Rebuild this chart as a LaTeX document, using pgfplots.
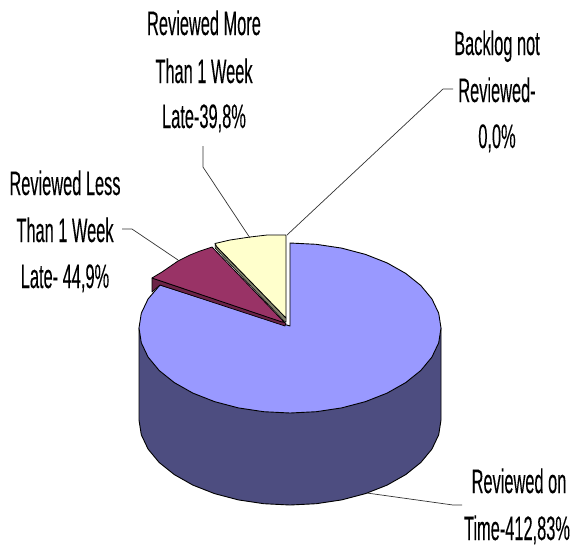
\documentclass[border=0pt]{standalone}
\usepackage{pgfplots}
\pgfplotsset{compat=1.18}
\usepackage{fontspec}
\setmainfont{Liberation Sans}
\definecolor{pieblue}{HTML}{9999FF}
\definecolor{pieside}{HTML}{4D4D80}
\definecolor{piepurple}{HTML}{993366}
\definecolor{piedark}{HTML}{6B2347}
\definecolor{piecream}{HTML}{FFFFCC}
\definecolor{pieolive}{HTML}{80806A}
\definecolor{leader}{HTML}{333333}
\newcommand{\lbl}[3]{\node[anchor=base,inner sep=0pt,text=black] at (axis cs:#1,#2) {\fontsize{29}{29}\selectfont\addfontfeature{FakeBold=0.25}\scalebox{0.565}[1.17]{#3}};}
\begin{document}
\begin{tikzpicture}
\begin{axis}[
  name=pie,
  scale only axis, width=577pt, height=547pt,
  xmin=0, xmax=577, ymin=0, ymax=547, y dir=reverse,
  hide axis, clip=false, no markers,
  every axis plot/.append style={line join=round},
]
% side wall
\addplot[fill=pieside, draw=black, line width=0.9pt] coordinates {
(139,328)(139,420)(141.3,434.8)(148.1,449.1)(159.2,462.5)(174.3,474.6)(192.9,485.1)(214.5,493.6)(238.4,499.9)(263.8,503.7)(290,505)
(316.2,503.7)(341.6,499.9)(365.5,493.6)(387.1,485.1)(405.7,474.6)(420.8,462.5)(431.9,449.1)(438.7,434.8)(441,420)(441,328)
} --cycle;
% top of the large slice
\addplot[fill=pieblue, draw=black, line width=0.9pt] coordinates {
(290,326)(290,243)(316.2,244.3)(341.6,248.1)(365.5,254.4)(387.1,262.9)(405.7,273.4)(420.8,285.5)(431.9,298.9)(438.7,313.2)(441,328)
(438.7,342.8)(431.9,357.1)(420.8,370.5)(405.7,382.6)(387.1,393.1)(365.5,401.6)(341.6,407.9)(316.2,411.7)(290,413)
(263.8,411.7)(238.4,407.9)(214.5,401.6)(192.9,393.1)(174.3,382.6)(159.2,370.5)(148.1,357.1)(141.3,342.8)(139,328)(141.3,313.2)(148.1,298.9)(160,285)
} --cycle;
% purple slice: wall, then top
\addplot[fill=piedark, draw=black, line width=0.7pt] coordinates {
(152,278)(152,292)(160,285)(285,326)(286,323)
} --cycle;
\addplot[fill=piepurple, draw=black, line width=0.8pt] coordinates {
(152,278)(162,272)(178,261)(190,255)(200,251)(212,247)(284,322)(282,322)
} --cycle;
% cream slice: wall, then top
\addplot[fill=pieolive, draw=black, line width=0.5pt] coordinates {
(215,243.5)(215,248)(284,321)(286,322)(286,318)(217,247)
} --cycle;
\addplot[fill=piecream, draw=black, line width=0.8pt] coordinates {
(286,318)(217,247)(215,243.5)(230,240)(250,237)(267,235)(286,235)
} --cycle;
% leader lines
\addplot[leader, line width=0.7pt] coordinates {(122,229)(132,229)(178,260)};
\addplot[leader, line width=0.7pt] coordinates {(203,146)(203,167)(250,238)};
\addplot[leader, line width=0.7pt] coordinates {(453,89)(443,89)(287,235)};
\addplot[leader, line width=0.7pt] coordinates {(367,493)(453,505)(462,505)};
% labels
\lbl{204}{35}{Reviewed More}
\lbl{204}{83}{Than 1 Week}
\lbl{204}{128}{Late-39,8\%}
\lbl{65}{195}{Reviewed Less}
\lbl{65}{242}{Than 1 Week}
\lbl{65}{288}{Late- 44,9\%}
\lbl{497}{55}{Backlog not}
\lbl{497}{102}{Reviewed-}
\lbl{497}{148}{0,0\%}
\lbl{519}{493}{Reviewed on}
\lbl{517}{540}{Time-412,83\%}
\end{axis}
\path[use as bounding box] (pie.south west) rectangle (pie.north east);
\end{tikzpicture}
\end{document}
